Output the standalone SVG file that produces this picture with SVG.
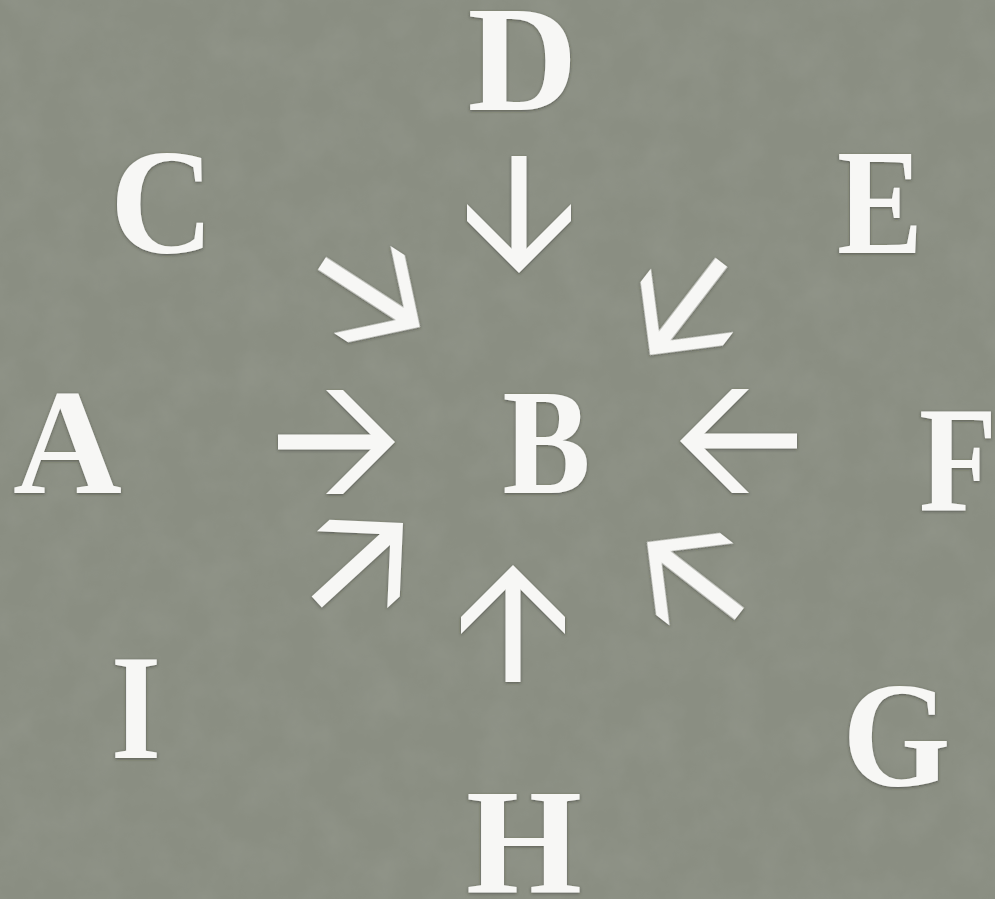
<svg xmlns="http://www.w3.org/2000/svg" xmlns:xlink="http://www.w3.org/1999/xlink" width="995" height="899" viewBox="0 0 995 899">
  <defs>
    <filter id="shadow" x="-20%" y="-20%" width="140%" height="140%">
      <feDropShadow dx="0" dy="1" stdDeviation="1.5" flood-color="#2f312b" flood-opacity="0.55"/>
    </filter>
    <filter id="grain" x="0" y="0" width="100%" height="100%">
      <feTurbulence type="fractalNoise" baseFrequency="0.025" numOctaves="4" seed="7" result="n"/>
      <feColorMatrix in="n" type="matrix" values="0 0 0 0 0.45  0 0 0 0 0.47  0 0 0 0 0.42  0 0 0 1.4 -0.45"/>
    </filter>
    <g id="arr">
      <rect x="-117" y="-7.5" width="108" height="15"/>
      <polygon points="0,0 -52,52 -69,52 -17,0 -69,-52 -52,-52"/>
    </g>
    <style>
      .lbl { font-family: "Liberation Serif", "Times New Roman", serif; font-weight: bold; font-size: 150px; fill: #f7f7f5; text-anchor: middle; }
      .arrow { fill: #f7f7f5; }
    </style>
  </defs>
  <rect x="0" y="0" width="995" height="899" fill="#8a8e82"/>
  <rect x="0" y="0" width="995" height="899" filter="url(#grain)" opacity="0.16"/>

  <g id="connectors" class="arrow" filter="url(#shadow)">
    <use xlink:href="#arr" href="#arr" transform="translate(519,273) rotate(90)"/>
    <use xlink:href="#arr" href="#arr" transform="translate(420,327) rotate(33)"/>
    <use xlink:href="#arr" href="#arr" transform="translate(650,355) rotate(127.6)"/>
    <use xlink:href="#arr" href="#arr" transform="translate(395,442)"/>
    <use xlink:href="#arr" href="#arr" transform="translate(680,441) rotate(180)"/>
    <use xlink:href="#arr" href="#arr" transform="translate(403,523) rotate(-42.5)"/>
    <use xlink:href="#arr" href="#arr" transform="translate(513,565) rotate(-90)"/>
    <use xlink:href="#arr" href="#arr" transform="translate(647,542) rotate(-142.1)"/>
  </g>

  <g filter="url(#shadow)">
    <g id="node-A"><text class="lbl" x="67.5" y="493" textLength="109" lengthAdjust="spacingAndGlyphs">A</text></g>
    <g id="node-B"><text class="lbl" x="546.5" y="493" textLength="88" lengthAdjust="spacingAndGlyphs">B</text></g>
    <g id="node-C"><text class="lbl" x="162" y="253" textLength="104" lengthAdjust="spacingAndGlyphs">C</text></g>
    <g id="node-D"><text class="lbl" x="522.5" y="110" textLength="110" lengthAdjust="spacingAndGlyphs">D</text></g>
    <g id="node-E"><text class="lbl" x="880" y="253" textLength="86" lengthAdjust="spacingAndGlyphs">E</text></g>
    <g id="node-F"><text class="lbl" x="958" y="510" textLength="78" lengthAdjust="spacingAndGlyphs">F</text></g>
    <g id="node-G"><text class="lbl" x="896.5" y="786" textLength="108" lengthAdjust="spacingAndGlyphs">G</text></g>
    <g id="node-H"><text class="lbl" x="524" y="893" textLength="116" lengthAdjust="spacingAndGlyphs">H</text></g>
    <g id="node-I"><text class="lbl" x="136" y="758" textLength="50" lengthAdjust="spacingAndGlyphs">I</text></g>
  </g>
</svg>
